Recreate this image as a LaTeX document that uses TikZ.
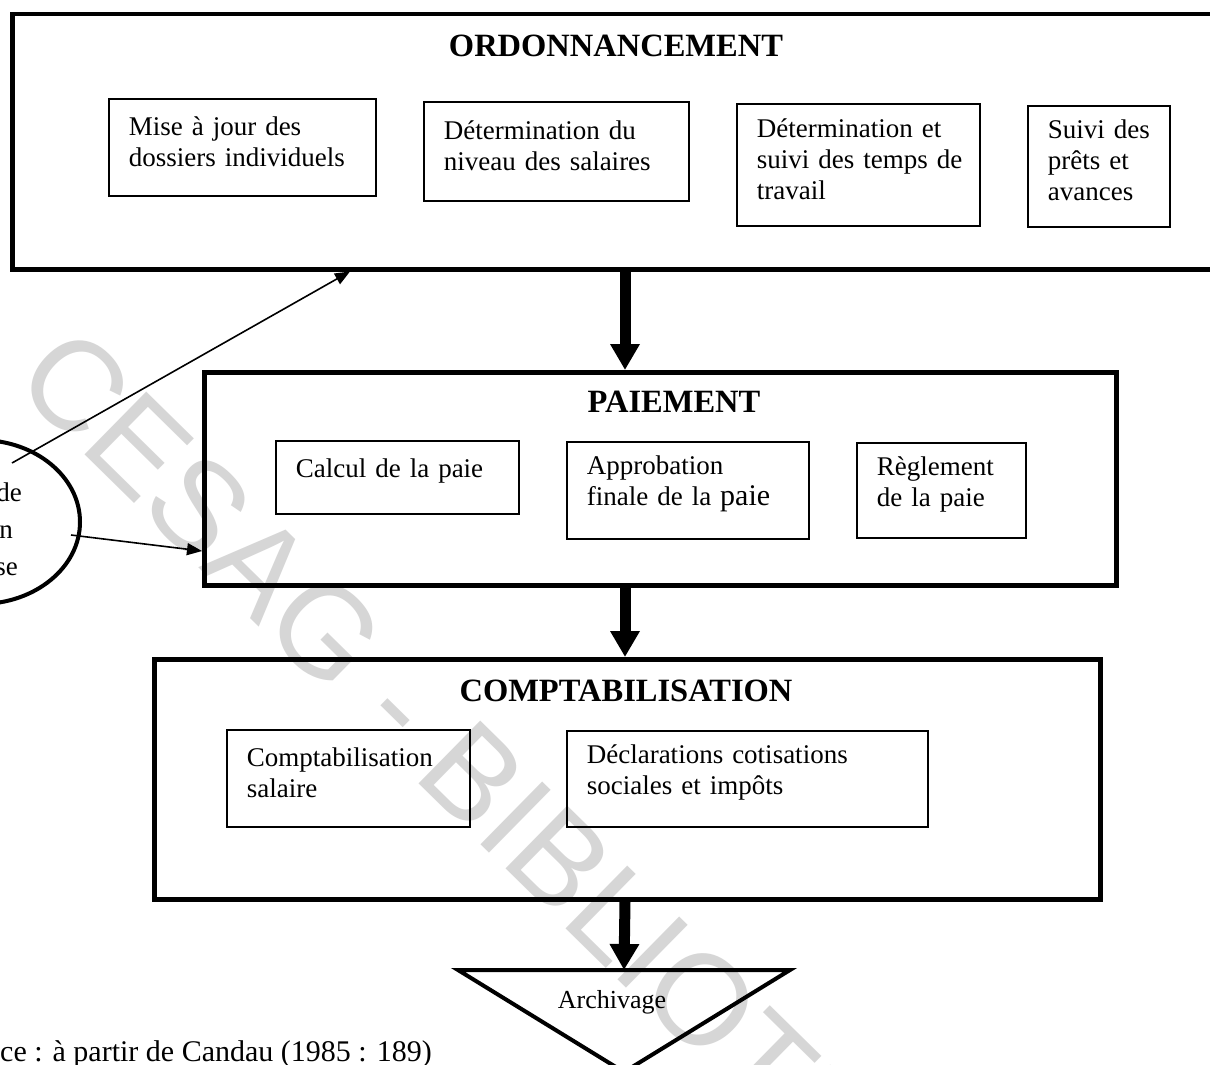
\documentclass[tikz,border=0pt]{standalone}
\usepackage{fontspec}
\setmainfont{Liberation Serif}
\newfontfamily\markfont{Liberation Sans}
\usetikzlibrary{arrows.meta,shapes.geometric}
\begin{document}
\begin{tikzpicture}[x=1pt,y=-1pt,
  txt/.style={font=\fontsize{27}{31}\selectfont, inner sep=0pt},
  heading/.style={font=\fontsize{32.5}{36}\selectfont\bfseries, anchor=base, inner sep=0pt},
  stage/.style={draw, line width=4.5pt, anchor=north west, inner sep=0pt},
  task/.style={draw, line width=1.6pt, anchor=north west, align=left,
    inner xsep=20pt, inner ysep=0pt, font=\fontsize{27}{31}\selectfont,
    execute at end node={\endgraf\kern12pt}},
  flow/.style={line width=11pt, -{Triangle[length=26pt,width=28pt]}},
  link/.style={line width=1.6pt, -{Triangle[length=15pt,width=12pt]}},
]
% page frame
\useasboundingbox (0,0) rectangle (1210,1065);
\fill[white] (0,0) rectangle (1210,1065);
\clip (0,0) rectangle (1210,1065);

% library stamp across the page
\node[font=\markfont\fontsize{128}{128}\selectfont, text=black!16, rotate=-44.5,
  anchor=base west, inner sep=0pt] (mark) at (11,383) {CESAG - BIBLIOTHEQUE};

% ---- stage 1 : ordonnancement
\node[stage, minimum width=1215pt, minimum height=255pt] (ord) at (10,12) {};
\node[heading] (ordT) at (616,57) {ORDONNANCEMENT};
\node[task, text width=227pt, minimum height=97pt] (t1) at (108,98)
  {Mise à jour des\\dossiers individuels};
\node[task, text width=225pt, minimum height=99pt] (t2) at (423,101)
  {Détermination du\\niveau des salaires};
\node[task, text width=203pt, minimum height=122pt] (t3) at (736,103)
  {Détermination et\\\mbox{suivi des temps de}\\travail};
\node[task, text width=102pt, minimum height=121pt] (t4) at (1027,105)
  {\mbox{Suivi des}\\prêts et\\avances};

% ---- stage 2 : paiement
\node[stage, minimum width=912pt, minimum height=213pt] (paie) at (202,370) {};
\node[heading] (paieT) at (674,412) {PAIEMENT};
\node[task, text width=203pt, minimum height=73pt] (p1) at (275,440)
  {Calcul de la paie};
\node[task, text width=202pt, minimum height=97pt] (p2) at (566,441)
  {Approbation\\finale de la {\fontsize{30}{31}\selectfont paie}};
\node[task, text width=129pt, minimum height=95pt] (p3) at (856,442)
  {Règlement\\de la paie};

% ---- stage 3 : comptabilisation
\node[stage, minimum width=946pt, minimum height=240pt] (compta) at (152,657) {};
\node[heading] (comptaT) at (626,701) {COMPTABILISATION};
\node[task, text width=203pt, minimum height=97pt] (c1) at (226,729)
  {\mbox{Comptabilisation}\\salaire};
\node[task, text width=321pt, minimum height=96pt] (c2) at (566,730)
  {Déclarations cotisations\\sociales et impôts};

% ---- archive triangle
\coordinate (archL) at (458,970);
\coordinate (archR) at (790,970);
\coordinate (archB) at (624,1072);
\coordinate (archTop) at (624,970);
\draw[line width=4pt, line join=miter] (archL) -- (archR) -- (archB) -- cycle;
\node[txt, font=\fontsize{26}{30}\selectfont, anchor=base] (arch) at (612,1008) {Archivage};

% ---- main flow
\coordinate (spine) at (625,0);
\draw[flow] (ord.south -| spine) -- (paie.north -| spine);
\draw[flow] (paie.south -| spine) -- (compta.north -| spine);
\draw[flow] (compta.south -| spine) -- (archTop);

% ---- service ellipse on the left
\node[draw, ellipse, line width=4pt, minimum width=200pt, minimum height=164pt,
  inner sep=0pt] (svc) at (-20,522) {};
\node[txt, anchor=base east] (svc1) at (22,501) {de};
\node[txt, anchor=base east] (svc2) at (13,538) {n};
\node[txt, anchor=base east] (svc3) at (18,575) {se};

\coordinate (svcA) at (12,463);
\coordinate (hitA) at (350,0);
\draw[link] (svcA) -- (ord.south -| hitA);
\coordinate (svcB) at (71,535);
\coordinate (hitB) at (0,551);
\draw[link] (svcB) -- (paie.west |- hitB);

% ---- source line
\node[txt, font=\fontsize{30}{32}\selectfont, anchor=base west] (src) at (0,1061)
  {ce : à partir de Candau (1985 : 189)};
\end{tikzpicture}
\end{document}
